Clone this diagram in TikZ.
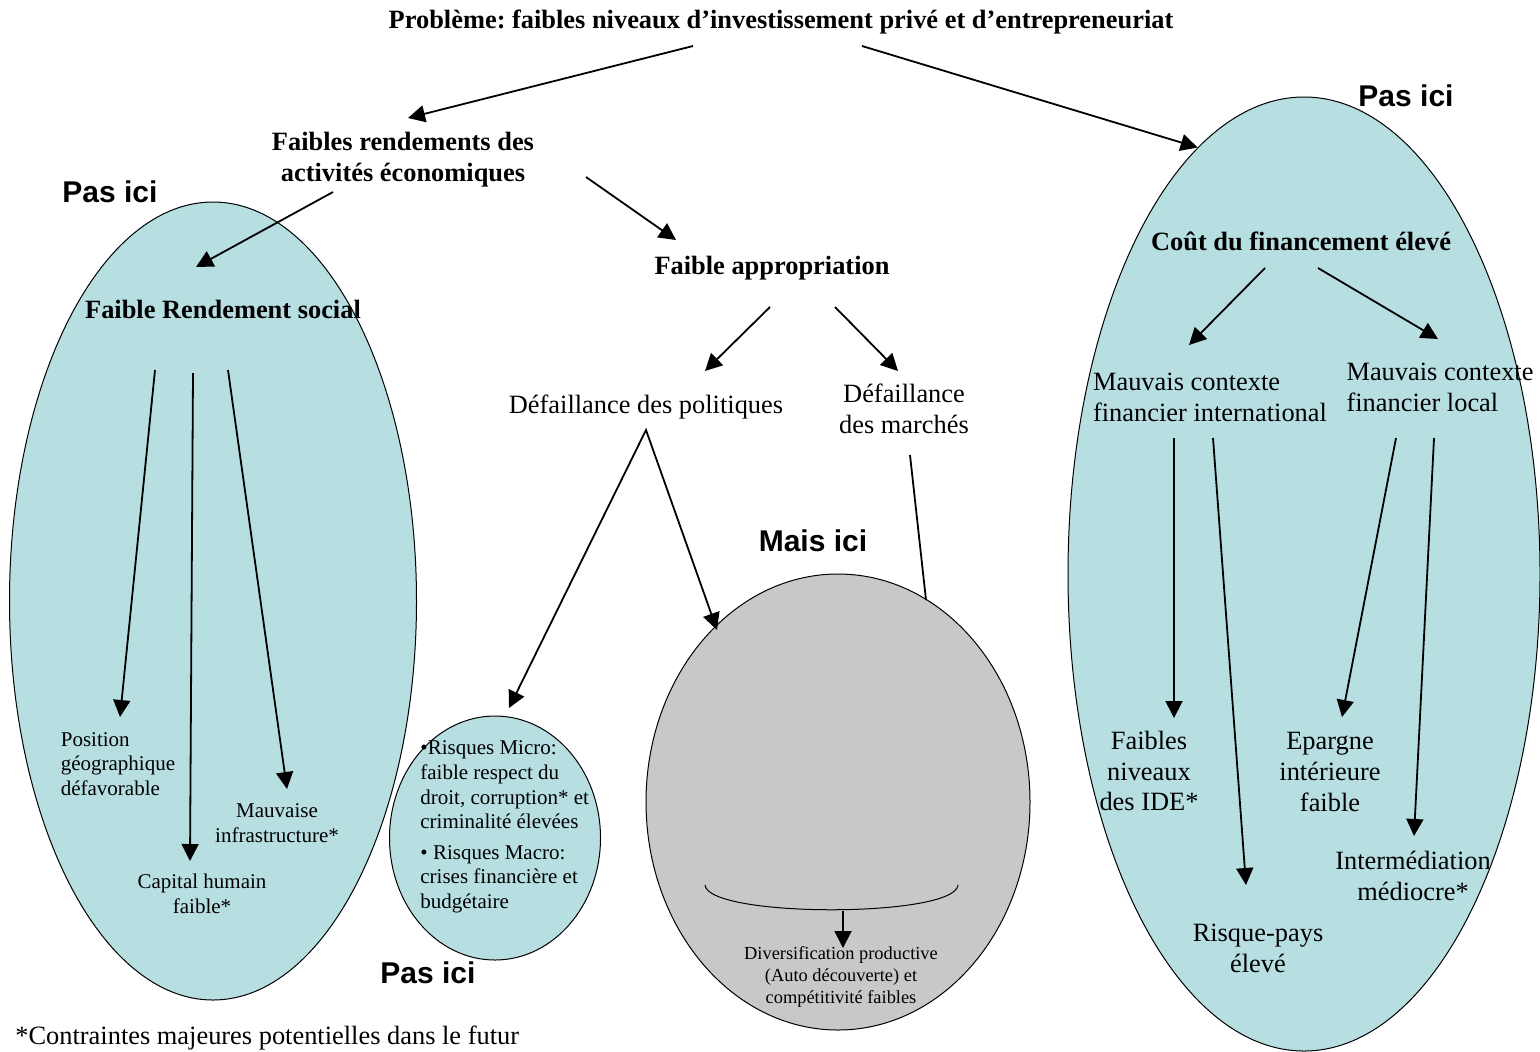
\documentclass[tikz,border=0pt]{standalone}
\usepackage{fontspec}
\setmainfont{Liberation Serif}
\setsansfont{Liberation Sans}
\usepackage{tikz}
\usetikzlibrary{shapes.geometric,arrows.meta}
\definecolor{zonebleu}{RGB}{183,223,226}
\definecolor{zonegris}{RGB}{200,200,200}
\frenchspacing

\begin{document}
\begin{tikzpicture}[x=0.5pt,y=-0.5pt]
            \tikzstyle{zone}=[ellipse,draw,line width=0.5pt,fill=zonebleu,inner sep=0pt]
            \tikzstyle{lbl}=[inner sep=0pt,align=center,font=\fontsize{13.2}{15.4}\selectfont]
            \tikzstyle{titre}=[lbl,font=\bfseries\fontsize{13.2}{15.4}\selectfont]
            \tikzstyle{petit}=[lbl,font=\fontsize{10.5}{12.3}\selectfont]
            \tikzstyle{pasici}=[inner sep=0pt,font=\sffamily\bfseries\fontsize{15}{18}\selectfont]
            \tikzstyle{fleche}=[line width=0.9pt,-{Triangle[length=8.5pt,width=8.5pt]}]
            \useasboundingbox (0,0) rectangle (1540,1051);
            \node[zone,minimum width=203.5pt,minimum height=399pt] (ellsocial) at (213,601) {};
            \node[zone,minimum width=105.5pt,minimum height=122pt] (ellmicro) at (495,838) {};
            \node[zone,fill=zonegris,minimum width=192pt,minimum height=228pt] (ellmais) at (838,802) {};
            \node[zone,minimum width=236pt,minimum height=477pt] (ellcout) at (1304,574) {};
            \node[titre] (probleme) at (781,22) {Problème: faibles niveaux d’investissement privé et d’entrepreneuriat};
            \node[titre] (rendements) at (403,160) {Faibles rendements des\\activités économiques};
            \node[titre] (approp) at (772,268) {Faible appropriation};
            \node[titre] (rdtsocial) at (223,309) {Faible Rendement social};
            \node[titre] (cout) at (1301,241) {Coût du financement élevé};
            \node[lbl] (politiques) at (646,407) {Défaillance des politiques};
            \node[lbl] (marches) at (904,409) {Défaillance\\des marchés};
            \node[lbl,align=left] (intl) at (1210,397) {Mauvais contexte\\financier international};
            \node[lbl,align=left] (local) at (1440,387) {Mauvais contexte\\financier local};
            \node[lbl] (ide) at (1149,771) {Faibles\\niveaux\\des IDE*};
            \node[lbl] (risque) at (1258,948) {Risque-pays\\élevé};
            \node[lbl] (epargne) at (1330,772) {Epargne\\intérieure\\faible};
            \node[lbl] (interm) at (1413,876) {Intermédiation\\médiocre*};
            \node[petit,align=left] (geo) at (118,764) {Position\\géographique\\défavorable};
            \node[petit] (infra) at (277,823) {Mauvaise\\infrastructure*};
            \node[petit] (capital) at (202,894) {Capital humain\\faible*};
            \node[petit,align=left,anchor=west] (micro) at (420,827) {\textbullet Risques Micro:\\faible respect du\\droit, corruption* et\\criminalité élevées\\[3pt]\textbullet{} Risques Macro:\\crises financière et\\budgétaire};
            \node[lbl,font=\fontsize{9.2}{10.8}\selectfont] (divers) at (841,977) {Diversification productive\\(Auto découverte) et\\compétitivité faibles};
            \node[lbl,anchor=west] (note) at (15,1038) {*Contraintes majeures potentielles dans le futur};
            \node[pasici] (pas1) at (110,192) {Pas ici};
            \node[pasici] (pas2) at (1406,96) {Pas ici};
            \node[pasici] (pas3) at (428,973) {Pas ici};
            \node[pasici] (mais) at (813,541) {Mais ici};
            \draw[fleche] ([shift={(-88,24)}]probleme.center) -- ([shift={(5,-42)}]rendements.center);
            \draw[fleche] ([shift={(81,24)}]probleme.center) -- (ellcout.104.8);
            \draw[fleche] ([shift={(-70,32)}]rendements.center) -- ([shift={(-27,-42)}]rdtsocial.center);
            \draw[fleche] ([shift={(183,17)}]rendements.center) -- ([shift={(-96,-28)}]approp.center);
            \draw[fleche] ([shift={(-2,39)}]approp.center) -- ([shift={(59,-36)}]politiques.center);
            \draw[fleche] ([shift={(63,39)}]approp.center) -- ([shift={(-6,-38)}]marches.center);
            \draw[{Triangle[length=8.5pt,width=8.5pt]}-{Triangle[length=8.5pt,width=8.5pt]},line width=0.9pt] ([shift={(14,-130)}]ellmicro.center) -- ([shift={(0,23)}]politiques.center) -- ([shift={(-121,-172)}]ellmais.center);
            \draw[line width=0.9pt] ([shift={(6,46)}]marches.center) -- ([shift={(88,-202)}]ellmais.center);
            \draw[fleche] ([shift={(-68,61)}]rdtsocial.center) -- ([shift={(2,-47)}]geo.center);
            \draw[fleche] ([shift={(-30,64)}]rdtsocial.center) -- ([shift={(-12,-33)}]capital.center);
            \draw[fleche] ([shift={(5,61)}]rdtsocial.center) -- ([shift={(10,-34)}]infra.center);
            \draw[fleche] ([shift={(-36,27)}]cout.center) -- ([shift={(-21,-52)}]intl.center);
            \draw[fleche] ([shift={(17,27)}]cout.center) -- ([shift={(-2,-48)}]local.center);
            \draw[fleche] ([shift={(-36,41)}]intl.center) -- ([shift={(25,-53)}]ide.center);
            \draw[fleche] ([shift={(3,41)}]intl.center) -- ([shift={(-12,-63)}]risque.center);
            \draw[fleche] ([shift={(-44,51)}]local.center) -- ([shift={(12,-55)}]epargne.center);
            \draw[fleche] ([shift={(-6,51)}]local.center) -- ([shift={(1,-40)}]interm.center);
            \draw[line width=0.5pt] (705,885) .. controls (708,918) and (955,918) .. (958,885);
            \draw[fleche] ([shift={(2,-66)}]divers.center) -- ([shift={(2,-29)}]divers.center);
        \end{tikzpicture}
\end{document}
